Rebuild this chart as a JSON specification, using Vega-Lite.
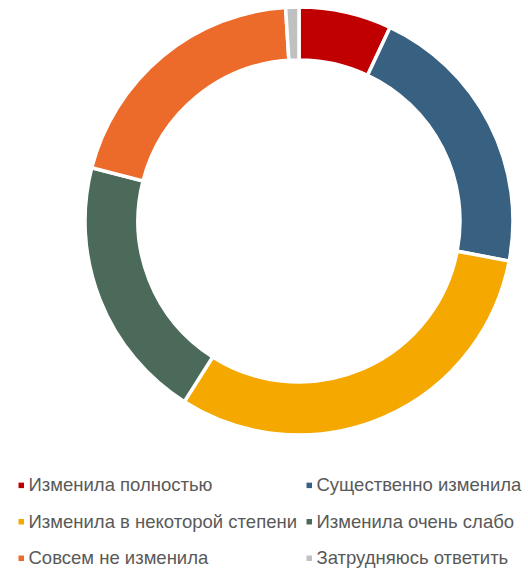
{
  "$schema": "https://vega.github.io/schema/vega-lite/v6.json",
  "autosize": "none",
  "width": 458,
  "height": 442,
  "padding": {"left": 70, "top": 0, "right": 0, "bottom": 126},
  "background": "white",
  "view": {"stroke": null},
  "data": {
    "values": [
      {"cat": "Изменила полностью", "value": 7, "ord": 1},
      {"cat": "Существенно изменила", "value": 21, "ord": 2},
      {"cat": "Изменила в некоторой степени", "value": 31, "ord": 3},
      {"cat": "Изменила очень слабо", "value": 20, "ord": 4},
      {"cat": "Совсем не изменила", "value": 20, "ord": 5},
      {"cat": "Затрудняюсь ответить", "value": 1, "ord": 6}
    ]
  },
  "mark": {"type": "arc", "outerRadius": 214, "innerRadius": 161, "stroke": "white", "strokeWidth": 3.5},
  "encoding": {
    "theta": {"field": "value", "type": "quantitative", "stack": true},
    "order": {"field": "ord", "type": "quantitative"},
    "color": {
      "field": "cat",
      "type": "nominal",
      "scale": {
        "domain": ["Изменила полностью", "Изменила в некоторой степени", "Совсем не изменила", "Существенно изменила", "Изменила очень слабо", "Затрудняюсь ответить"],
        "range": ["#C00000", "#F5A800", "#EC6A2A", "#376081", "#4B6A5A", "#C0C0C0"]
      },
      "legend": {
        "title": null,
        "orient": "none",
        "legendX": -58,
        "legendY": 476,
        "columns": 2,
        "symbolType": "square",
        "symbolSize": 30,
        "symbolStrokeWidth": 0,
        "labelFont": "Liberation Sans",
        "labelFontSize": 18.5,
        "labelColor": "#595959",
        "labelOffset": -2,
        "labelLimit": 400,
        "columnPadding": 3,
        "rowPadding": 17.5
      }
    }
  }
}
